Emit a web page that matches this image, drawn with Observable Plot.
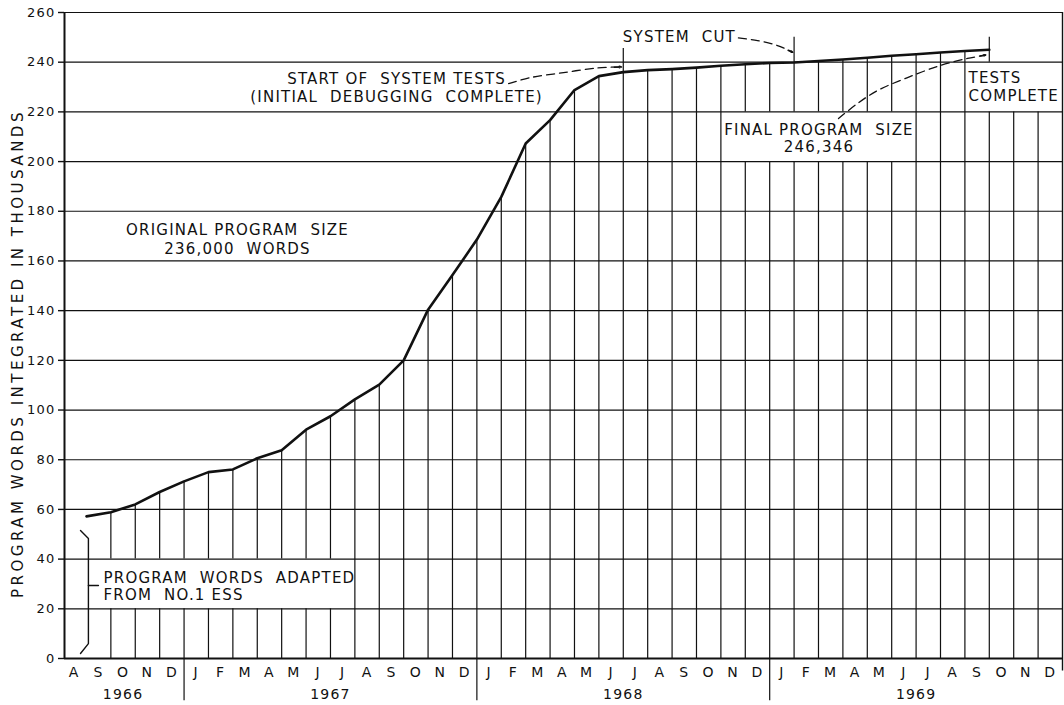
<!DOCTYPE html>
<html><head><meta charset="utf-8">
<script src="https://cdn.jsdelivr.net/npm/d3@7"></script>
<script src="https://cdn.jsdelivr.net/npm/@observablehq/plot@0.6"></script>
<style>
html,body{margin:0;padding:0;background:#fff;}
#chart{width:1064px;height:705px;}
#chart svg text{letter-spacing:1.2px;}
</style></head><body><div id="chart"></div>
<script>
// Month letters, Aug 1966 .. Dec 1969 (month k spans [k, k+1])
const monthLetters = ["A","S","O","N","D",
  "J","F","M","A","M","J","J","A","S","O","N","D",
  "J","F","M","A","M","J","J","A","S","O","N","D",
  "J","F","M","A","M","J","J","A","S","O","N","D"];
const years = ["1966","1967","1968","1969"];
const yearStart = [0, 5, 17, 29];
const yearEnd = [5, 17, 29, 41];
const yTicks = [0,20,40,60,80,100,120,140,160,180,200,220,240,260];

// Program words integrated (thousands) at end of each month, Aug 1966 .. Sep 1969
const wordsK = [57.2, 58.9, 62.0, 67.0, 71.3, 75.0, 76.1, 80.6, 83.8, 92.1,
  97.5, 104.3, 110.2, 120.0, 140.4, 154.3, 168.6, 185.8, 207.3, 216.7,
  228.8, 234.4, 236.0, 236.8, 237.2, 237.8, 238.6, 239.2, 239.7, 239.9,
  240.5, 241.1, 241.8, 242.6, 243.2, 243.9, 244.5, 245.0];

// Milestone ticks (month-end index, top in thousands)
const milestoneMonth = [23, 30, 38];
const milestoneTop = [245.5, 250, 250];

// Label areas kept clear of the month lines
const clearFrom = [2, 28, 38];
const clearTo = [11, 34, 40];
const clearLow = [20, 200, 220];
const clearHigh = [40, 220, 240];

// Annotation texts (position in month index / thousands)
const notes = [
  {m: 7.19, v: 169.0, t: "ORIGINAL PROGRAM  SIZE\n236,000  WORDS", a: "middle", lh: 1.27},
  {m: 13.71, v: 229.8, t: "START OF  SYSTEM TESTS\n(INITIAL  DEBUGGING  COMPLETE)", a: "middle", lh: 1.16},
  {m: 25.3, v: 249.9, t: "SYSTEM  CUT", a: "middle", lh: 1},
  {m: 37.15, v: 230.2, t: "TESTS\nCOMPLETE", a: "start", lh: 1.16},
  {m: 31.02, v: 209.5, t: "FINAL PROGRAM  SIZE\n246,346", a: "middle", lh: 1.16},
  {m: 1.7, v: 29.2, t: "PROGRAM  WORDS  ADAPTED\nFROM  NO.1 ESS", a: "start", lh: 1.16}
];

// Dashed leader paths
const leaders = [
  [[18.3,231.4],[19.2,233.8],[20.55,235.8],[21.94,237.7],[22.93,238.1]],
  [[27.72,249.8],[28.5,248.7],[29.32,246.7],[29.94,244.0]],
  [[31.82,217.3],[32.6,223.4],[33.42,228.6],[34.65,233.8],[36.0,238.7],[37.11,241.5],[37.85,242.9]]
];

// Brace for adapted words
const brace = [[0.756,51.5],[1.08,48.3],[1.08,6.0],[0.756,2.0]];
const braceTick = [[1.08,29.4],[1.49,29.4]];

// ---- derived tables ----
const curve = wordsK.map((v, k) => ({m: k + 1, v}));
const segments = [];
for (let m = 2; m <= 40; m++) {
  let top = m <= wordsK.length ? wordsK[m - 1] : 240;
  const mi = milestoneMonth.indexOf(m);
  if (mi >= 0) top = Math.max(top, milestoneTop[mi]);
  let segs = [[0, top]];
  clearFrom.forEach((f, b) => {
    if (m >= f && m <= clearTo[b]) {
      const out = [];
      segs.forEach(([a, c]) => {
        if (clearHigh[b] <= a || clearLow[b] >= c) { out.push([a, c]); return; }
        if (a < clearLow[b]) out.push([a, clearLow[b]]);
        if (c > clearHigh[b]) out.push([clearHigh[b], c]);
      });
      segs = out;
    }
  });
  segs.forEach(([a, c]) => segments.push({m, y1: a, y2: c}));
}
const leaderRows = leaders.flatMap((p, j) => p.map(([m, v]) => ({j, m, v})));
const arrows = leaders.map(p => {
  const [mt, vt] = p[p.length - 1], [mp, vp] = p[p.length - 2];
  return {x1: mt + 0.3 * (mp - mt), y1: vt + 0.3 * (vp - vt), x2: mt, y2: vt};
});
const monthCenters = monthLetters.map((_, k) => k + 0.5);
const yearCenters = yearStart.map((s, i) => (s + yearEnd[i]) / 2);
const ink = "#111";

const noteMarks = notes.map(n => Plot.text([n], {
  x: "m", y: "v", text: "t", textAnchor: n.a, lineAnchor: "middle",
  lineHeight: n.lh, fontSize: 15, fill: ink
}));

const chart = Plot.plot({
  width: 1064, height: 705,
  marginTop: 12, marginBottom: 47, marginLeft: 64, marginRight: 2,
  x: {domain: [0.1, 41]},
  y: {domain: [0, 260]},
  style: {fontFamily: "'DejaVu Sans', sans-serif", background: "white", color: ink},
  marks: [
    Plot.ruleY(yTicks.filter(t => t > 0), {stroke: ink, strokeWidth: 1.2}),
    Plot.ruleX(segments, {x: "m", y1: "y1", y2: "y2", stroke: ink, strokeWidth: 1.2}),
    Plot.ruleX(yearEnd.slice(0, 3), {y1: -17, y2: 0, stroke: ink, strokeWidth: 1.2}),
    Plot.ruleX([41], {y1: -5, y2: 260, stroke: ink, strokeWidth: 1.4}),
    Plot.ruleX([0.1], {stroke: ink, strokeWidth: 2}),
    Plot.ruleY([0], {stroke: ink, strokeWidth: 2}),
    Plot.line(curve, {x: "m", y: "v", stroke: ink, strokeWidth: 2.6, strokeLinejoin: "round"}),
    Plot.line(brace, {x: d => d[0], y: d => d[1], stroke: ink, strokeWidth: 1.4}),
    Plot.line(braceTick, {x: d => d[0], y: d => d[1], stroke: ink, strokeWidth: 1.4}),
    Plot.line(leaderRows, {x: "m", y: "v", z: "j", curve: "catmull-rom", stroke: ink, strokeWidth: 1.3, strokeDasharray: "8,5"}),
    Plot.arrow(arrows, {x1: "x1", y1: "y1", x2: "x2", y2: "y2", stroke: ink, strokeWidth: 1.5, headLength: 10, headAngle: 40}),
    ...noteMarks,
    Plot.axisY(yTicks, {tickSize: 6, tickPadding: 3, fontSize: 13, label: null, stroke: ink, strokeWidth: 1.4, fill: ink}),
    Plot.text(["PROGRAM WORDS INTEGRATED IN THOUSANDS"], {frameAnchor: "left", textAnchor: "middle", rotate: -90, dx: -46, dy: 18, fontSize: 15, fill: ink}),
    Plot.axisX(monthCenters, {tickSize: 0, tickPadding: 9, fontSize: 14, label: null, fill: ink,
      tickFormat: d => monthLetters[Math.floor(d)]}),
    Plot.axisX(yearCenters, {tickSize: 0, tickPadding: 31, fontSize: 14, label: null, fill: ink,
      tickFormat: d => years[yearCenters.indexOf(d)]})
  ]
});
d3.select(chart).selectAll("text")
  .filter(function() { return this.textContent.startsWith("PROGRAM WORDS INTEGRATED"); })
  .style("letter-spacing", "3.5px");
document.getElementById("chart").appendChild(chart);
</script></body></html>
